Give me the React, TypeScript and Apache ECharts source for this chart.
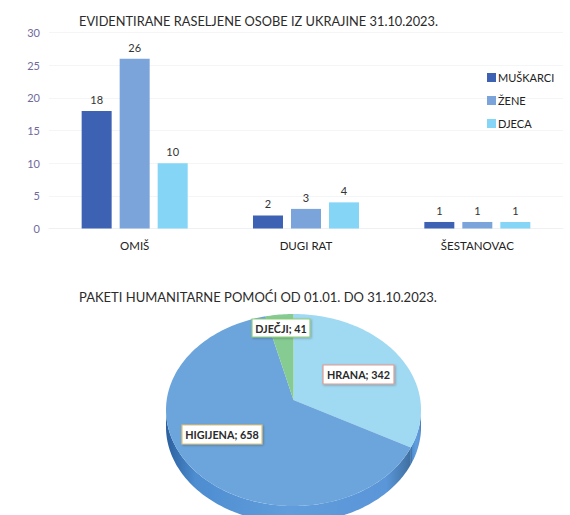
import React, { useEffect, useRef } from "react";
import * as echarts from "echarts";

const categories = ["OMIŠ", "DUGI RAT", "ŠESTANOVAC"];
const muskarci = [18, 2, 1];
const zene = [26, 3, 1];
const djeca = [10, 4, 1];
const yTicks = { min: 0, max: 30, interval: 5 };
const barTitle = "EVIDENTIRANE RASELJENE OSOBE IZ UKRAJINE 31.10.2023.";
const pieTitle = "PAKETI HUMANITARNE POMOĆI OD 01.01. DO 31.10.2023.";
const pieNames = ["HRANA", "HIGIJENA", "DJEČJI"];
const pieValues = [342, 658, 41];
const pieColors = ["#a0d9f2", "#6ca5dc", "#86cb92"];
const labelBorders = ["#e39a8e", "#e3c070", "#8fce78"];
const labelPos = [
  [323, 365],
  [182, 425],
  [252, 319],
];
const labelSize = [
  [71, 19],
  [80, 19],
  [58, 18],
];

const FONT = "Lato";
const total = pieValues.reduce((a, b) => a + b, 0);
const cx = 293.5,
  cy = 410,
  rx = 127.5,
  ry = 96,
  apexY = 400,
  depth = 17;

// Where a ray from the off-centre apex, at a slice's true angle, meets the rim.
function rimAngle(theta: number) {
  const dx = Math.sin(theta);
  const dy = -(ry / rx) * Math.cos(theta) * rx;
  const ux = (rx * dx) / rx;
  const uy = dy / ry;
  const off = (apexY - cy) / ry;
  const a = ux * ux + uy * uy;
  const b = 2 * uy * off;
  const c = off * off - 1;
  const s = (-b + Math.sqrt(b * b - 4 * a * c)) / (2 * a);
  const t = Math.atan2(ux * s, -(uy * s + off));
  return t < -1e-6 ? t + Math.PI * 2 : t;
}

function arcPoints(a0: number, a1: number, dy: number) {
  const pts: number[][] = [];
  const n = Math.max(2, Math.ceil(Math.abs(a1 - a0) / 0.02));
  for (let i = 0; i <= n; i++) {
    const t = a0 + ((a1 - a0) * i) / n;
    pts.push([cx + rx * Math.sin(t), cy + dy - ry * Math.cos(t)]);
  }
  return pts;
}

export default function App() {
  const ref = useRef<HTMLDivElement>(null);
  useEffect(() => {
    const chart = echarts.init(ref.current!, undefined, { renderer: "svg" });
    const barSeries = (name: string, data: number[], color: string) => ({
      name,
      type: "bar",
      data,
      barWidth: 30,
      barGap: "26.7%",
      itemStyle: { color },
      label: {
        show: true,
        position: "top",
        distance: 6,
        color: "#333",
        fontFamily: FONT,
        fontSize: 11,
      },
    });
    chart.setOption({
      animation: false,
      backgroundColor: "#ffffff",
      title: [
        {
          text: barTitle,
          left: 74,
          top: 9,
          textStyle: { color: "#2b2b2b", fontFamily: FONT, fontSize: 12.8, fontWeight: "normal" },
        },
        {
          text: pieTitle,
          left: 74,
          top: 285,
          textStyle: { color: "#2b2b2b", fontFamily: FONT, fontSize: 13, fontWeight: "normal" },
        },
      ],
      legend: {
        orient: "vertical",
        left: 482,
        top: 67,
        itemWidth: 9,
        itemHeight: 9,
        itemGap: 12,
        icon: "rect",
        data: ["MUŠKARCI", "ŽENE", "DJECA"],
        textStyle: { color: "#222", fontFamily: FONT, fontSize: 11, padding: [0, 0, 0, -3] },
      },
      grid: { left: 49, top: 32.5, width: 514, height: 196, containLabel: false },
      xAxis: {
        type: "category",
        data: categories,
        axisLine: { show: true, lineStyle: { color: "#eef1f4" } },
        axisTick: { show: false },
        axisLabel: { color: "#222", fontFamily: FONT, fontSize: 11.5, margin: 11 },
      },
      yAxis: {
        type: "value",
        ...yTicks,
        axisLine: { show: false },
        axisTick: { show: false },
        splitLine: { lineStyle: { color: "#f3f5f7" } },
        axisLabel: { color: "#6f6a9c", fontFamily: FONT, fontSize: 11, margin: 9 },
      },
      series: [
        barSeries("MUŠKARCI", muskarci, "#3d62b4"),
        barSeries("ŽENE", zene, "#7ba4da"),
        barSeries("DJECA", djeca, "#84d5f6"),
        {
          type: "custom",
          coordinateSystem: "none",
          silent: true,
          legendHoverLink: false,
          clip: false,
          data: pieValues.map((v, i) => [i, v]),
          z: 5,
          renderItem: (params: any, api: any) => {
            const i = api.value(0);
            const before = pieValues.slice(0, i).reduce((a, b) => a + b, 0);
            const a0 = rimAngle((before / total) * Math.PI * 2);
            const rawEnd = rimAngle(((before + api.value(1)) / total) * Math.PI * 2);
            const a1 = i === pieValues.length - 1 ? Math.PI * 2 : rawEnd;
            const children: any[] = [];
            const fstart = Math.max(a0, Math.PI / 2);
            const fend = Math.min(a1, Math.PI * 1.5);
            if (fend > fstart) {
              const top = arcPoints(fstart, fend, 0);
              const bottom = arcPoints(fend, fstart, depth);
              children.push({
                type: "polygon",
                shape: { points: [...top, ...bottom] },
                style: {
                  fill: new echarts.graphic.LinearGradient(0, 0, 1, 0, [
                    { offset: 0, color: "#2b5f9e" },
                    { offset: 0.12, color: "#4d8dd0" },
                    { offset: 0.5, color: "#619ddc" },
                    { offset: 0.9, color: "#5a96d8" },
                    { offset: 1, color: "#3f6f9f" },
                  ]),
                },
              });
            }
            children.push({
              type: "polygon",
              shape: { points: [[cx, apexY], ...arcPoints(a0, a1, 0)] },
              style: { fill: pieColors[i] },
            });
            return { type: "group", children };
          },
        },
        {
          type: "custom",
          coordinateSystem: "none",
          silent: true,
          legendHoverLink: false,
          data: pieValues.map((v, i) => [i, v]),
          z: 6,
          renderItem: (params: any, api: any) => {
            const i = api.value(0);
            const [x, y] = labelPos[i];
            const [w, h] = labelSize[i];
            return {
              type: "group",
              children: [
                {
                  type: "rect",
                  shape: { x, y, width: w, height: h },
                  style: {
                    fill: "#ffffff",
                    stroke: labelBorders[i],
                    lineWidth: 1.2,
                    shadowColor: "rgba(0,0,0,0.25)",
                    shadowBlur: 2,
                    shadowOffsetX: 1,
                    shadowOffsetY: 1,
                  },
                },
                {
                  type: "text",
                  x: x + w / 2,
                  y: y + h / 2,
                  style: {
                    text: `${pieNames[i]}; ${api.value(1)}`,
                    fill: "#2a2a2a",
                    font: `bold 10.8px ${FONT}`,
                    textAlign: "center",
                    textVerticalAlign: "middle",
                  },
                },
              ],
            };
          },
        },
      ],
    });
    return () => chart.dispose();
  }, []);
  return <div ref={ref} style={{ position: "absolute", left: 0, top: 0, width: 570, height: 515 }} />;
}
